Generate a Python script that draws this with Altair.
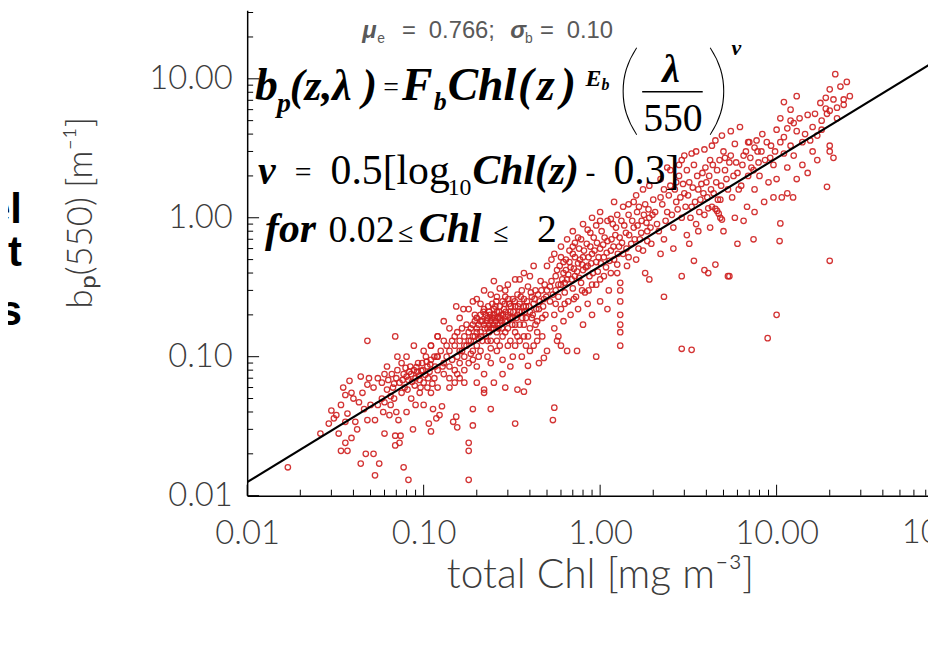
import altair as alt
import pandas as pd

# ---------------- data ----------------
# (total Chl [mg m^-3], bp(550) [m^-1]) pairs, grouped by Chl range
pts_a = [(0.017,0.016),(0.026,0.028),(0.029,0.033),(0.030,0.041),(0.031,0.036),(0.032,0.038),
         (0.033,0.028),(0.034,0.021),(0.034,0.045),(0.035,0.060),(0.036,0.024),(0.036,0.034),
         (0.036,0.053),(0.037,0.021),(0.037,0.039),(0.038,0.067),(0.039,0.026),(0.039,0.055),
         (0.040,0.050),(0.041,0.034),(0.042,0.030),(0.043,0.047),(0.044,0.017),(0.044,0.072),
         (0.045,0.055),(0.046,0.042),(0.047,0.020),(0.048,0.035),(0.048,0.063),(0.048,0.130),
         (0.049,0.070),(0.050,0.045)]
pts_b = [(0.052,0.020),(0.053,0.014),(0.053,0.035),(0.052,0.060),(0.055,0.070),(0.056,0.017),
         (0.058,0.050),(0.058,0.065),(0.060,0.028),(0.060,0.075),(0.062,0.058),(0.062,0.085),
         (0.065,0.045),(0.065,0.052),(0.066,0.075),(0.068,0.064),(0.069,0.023),(0.069,0.027),
         (0.069,0.140),(0.070,0.040),(0.071,0.080),(0.071,0.100),(0.072,0.035),(0.073,0.024),
         (0.074,0.027),(0.075,0.055),(0.075,0.090),(0.077,0.016),(0.078,0.060),(0.080,0.040),
         (0.080,0.072),(0.080,0.100),(0.082,0.013),(0.082,0.068),(0.085,0.050),(0.085,0.075),
         (0.087,0.030),(0.088,0.080),(0.088,0.120),(0.090,0.045),(0.090,0.070),(0.092,0.078),
         (0.095,0.055),(0.095,0.068),(0.098,0.090),(0.100,0.045),(0.100,0.065),(0.100,0.110),
         (0.105,0.060),(0.105,0.085),(0.107,0.033),(0.110,0.029),(0.110,0.055),(0.110,0.095),
         (0.110,0.120),(0.113,0.042),(0.115,0.070),(0.115,0.100),(0.118,0.036),(0.120,0.060),
         (0.120,0.080),(0.120,0.140),(0.083,0.078),(0.086,0.066),(0.091,0.084),(0.094,0.073),
         (0.097,0.079),(0.102,0.074),(0.104,0.092),(0.108,0.078),(0.076,0.068),(0.079,0.083),
         (0.055,0.045),(0.059,0.040),(0.063,0.068),(0.067,0.060),(0.070,0.070),(0.073,0.065),
         (0.077,0.075),(0.081,0.058),(0.084,0.085),(0.089,0.062),(0.093,0.090),(0.096,0.060),
         (0.099,0.080),(0.103,0.100),(0.106,0.070),(0.109,0.088),(0.112,0.064),(0.116,0.085),
         (0.119,0.100),(0.060,0.047),(0.064,0.038),(0.068,0.050)]
pts_c = [(0.180,0.013),(0.180,0.024),(0.180,0.021),(0.147,0.034),(0.155,0.031),(0.153,0.037),
         (0.127,0.044),(0.123,0.038),(0.190,0.032),(0.190,0.042),(0.330,0.033),(0.240,0.042),
         (0.220,0.055),(0.220,0.058),(0.290,0.060),(0.340,0.058),(0.370,0.056),(0.390,0.086),
         (0.390,0.066),(0.480,0.098),(0.540,0.035),(0.550,0.043),(0.250,0.350),(0.153,0.230),
         (0.168,0.220),(0.190,0.250),(0.210,0.240),(0.130,0.180),(0.130,0.130),
         (0.130,0.090),(0.135,0.100),(0.140,0.085),(0.140,0.110),(0.145,0.095),(0.150,0.120),
         (0.150,0.080),(0.155,0.100),(0.160,0.130),(0.160,0.090),(0.165,0.110),(0.170,0.140),
         (0.170,0.100),(0.175,0.120),(0.180,0.150),(0.180,0.090),(0.185,0.130),(0.190,0.170),
         (0.190,0.110),(0.195,0.140),(0.200,0.160),(0.200,0.120),(0.200,0.190),(0.205,0.100),
         (0.210,0.150),(0.210,0.200),(0.215,0.130),(0.220,0.170),(0.220,0.220),(0.225,0.140),
         (0.230,0.190),(0.230,0.160),(0.235,0.210),(0.240,0.180),(0.240,0.130),(0.245,0.240),
         (0.250,0.200),(0.250,0.160),(0.250,0.220),(0.255,0.180),(0.260,0.210),(0.260,0.150),
         (0.265,0.190),(0.270,0.230),(0.270,0.170),(0.275,0.200),(0.280,0.250),(0.280,0.140),
         (0.285,0.220),(0.290,0.180),(0.290,0.270),(0.300,0.200),(0.300,0.160),(0.305,0.240),
         (0.310,0.130),(0.310,0.210),(0.320,0.190),(0.320,0.260),(0.330,0.150),(0.330,0.230),
         (0.340,0.200),(0.340,0.280),(0.350,0.170),(0.350,0.240),(0.360,0.210),(0.360,0.300),
         (0.370,0.140),(0.370,0.260),(0.380,0.190),(0.380,0.230),(0.390,0.320),(0.400,0.210),
         (0.400,0.160),(0.410,0.270),(0.420,0.120),(0.420,0.240),(0.430,0.300),(0.440,0.180),
         (0.450,0.220),(0.460,0.350),(0.470,0.140),(0.480,0.260),(0.490,0.200),(0.500,0.300),
         (0.500,0.110),(0.160,0.070),(0.200,0.085),(0.230,0.100),(0.260,0.110),(0.280,0.095),
         (0.300,0.120),(0.320,0.100),(0.350,0.130),(0.280,0.075),(0.220,0.075),(0.170,0.065),
         (0.140,0.060),(0.250,0.065),(0.310,0.085),(0.360,0.100),(0.400,0.110),(0.440,0.130),
         (0.450,0.090),(0.200,0.065),(0.140,0.160),(0.160,0.190),(0.180,0.220),(0.200,0.260),
         (0.220,0.300),(0.240,0.280),(0.270,0.310),(0.300,0.330),(0.330,0.360),(0.370,0.400),
         (0.400,0.380),(0.420,0.450),(0.350,0.360),(0.260,0.270),(0.290,0.300),(0.120,0.140),
         (0.110,0.120),(0.215,0.180),(0.235,0.150),(0.245,0.190),(0.255,0.230),(0.265,0.160),
         (0.275,0.180),(0.235,0.170),(0.225,0.200),(0.195,0.180),(0.205,0.135),(0.185,0.105)]
pts_c2 = [(0.150,0.140),(0.155,0.150),(0.160,0.110),(0.165,0.160),(0.170,0.120),(0.175,0.170),
          (0.180,0.130),(0.185,0.160),(0.190,0.140),(0.195,0.200),(0.200,0.150),(0.205,0.170),
          (0.210,0.180),(0.212,0.140),(0.218,0.210),(0.222,0.160),(0.228,0.180),(0.232,0.230),
          (0.238,0.200),(0.242,0.160),(0.248,0.170),(0.252,0.190),(0.258,0.250),(0.262,0.170),
          (0.268,0.210),(0.272,0.190),(0.278,0.160),(0.282,0.200),(0.288,0.240),(0.292,0.210),
          (0.298,0.180),(0.302,0.260),(0.308,0.190),(0.312,0.230),(0.318,0.170),(0.322,0.210),
          (0.328,0.250),(0.335,0.190),(0.342,0.230),(0.348,0.210),(0.355,0.270),(0.362,0.190),
          (0.368,0.230),(0.375,0.210),(0.385,0.250),(0.395,0.230),(0.405,0.290),(0.415,0.200),
          (0.425,0.260),(0.435,0.220),(0.445,0.280),(0.455,0.250),(0.465,0.300),(0.475,0.230),
          (0.485,0.330),(0.495,0.270),(0.230,0.130),(0.260,0.130),(0.290,0.150),(0.330,0.170),
          (0.370,0.170),(0.410,0.190),(0.440,0.150),(0.470,0.190),(0.170,0.080),(0.190,0.095),
          (0.210,0.110),(0.240,0.115),(0.270,0.120),(0.340,0.140),(0.390,0.140),(0.430,0.170),
          (0.150,0.065),(0.240,0.090),(0.330,0.120),(0.380,0.120),(0.130,0.075),(0.125,0.110),
          (0.135,0.120),(0.145,0.130),(0.140,0.070),(0.155,0.075),(0.120,0.100),(0.128,0.085)]
pts_d = [(0.950,0.100),(0.740,0.110),(0.650,0.110),(0.600,0.120),(0.570,0.130),
         (1.30,0.120),(1.30,0.150),(1.30,0.170),(1.30,0.200),(1.30,0.250),(1.30,0.300),
         (1.30,0.340),(1.90,0.360),(1.80,0.400),
         (0.52,0.25),(0.53,0.35),(0.55,0.20),(0.56,0.30),(0.57,0.42),(0.58,0.27),(0.60,0.33),
         (0.60,0.22),(0.62,0.40),(0.63,0.29),(0.64,0.50),(0.65,0.36),(0.66,0.25),(0.68,0.44),
         (0.70,0.31),(0.70,0.55),(0.72,0.38),(0.73,0.27),(0.75,0.47),(0.76,0.60),(0.78,0.34),
         (0.80,0.42),(0.80,0.52),(0.82,0.29),(0.84,0.65),(0.85,0.45),(0.87,0.38),(0.90,0.55),
         (0.90,0.33),(0.92,0.72),(0.95,0.48),(0.97,0.41),(1.00,0.60),(1.00,0.36),(1.02,0.80),
         (1.05,0.52),(1.08,0.44),(1.10,0.68),(1.12,0.30),(1.15,0.58),(1.18,0.90),(1.20,0.50),
         (1.22,0.75),(1.25,0.40),(1.28,0.62),(1.32,0.95),(1.35,0.55),(1.40,0.78),(1.42,0.45),
         (1.45,1.05),(1.50,0.65),(1.55,0.85),(1.60,0.50),(1.62,1.10),(1.68,0.70),(1.72,0.95),
         (1.75,0.58),(1.80,1.25),(1.85,0.80),(1.90,1.00),(1.95,0.65),(2.00,1.35),
         (0.55,0.16),(0.62,0.18),(0.68,0.20),(0.75,0.22),(0.85,0.24),(0.58,0.14),(0.80,0.17),
         (1.00,0.25),(1.10,0.22),(0.90,0.20),(0.50,0.45),(0.55,0.55),(0.60,0.62),(0.65,0.70),
         (0.70,0.80),(0.80,0.90),(0.90,1.00),(1.00,1.10),(0.62,0.48),(0.72,0.66),(0.88,0.78),
         (1.15,0.98),(1.35,1.20),(1.55,1.30),(0.67,0.58),(0.78,0.70)]
pts_d2 = [(0.52,0.32),(0.54,0.28),(0.56,0.38),(0.58,0.33),(0.59,0.45),(0.61,0.36),(0.63,0.34),
          (0.64,0.42),(0.66,0.39),(0.67,0.48),(0.69,0.36),(0.71,0.43),(0.72,0.52),(0.74,0.41),
          (0.76,0.37),(0.77,0.50),(0.79,0.46),(0.81,0.58),(0.83,0.44),(0.86,0.52),(0.88,0.62),
          (0.89,0.47),(0.91,0.40),(0.93,0.58),(0.96,0.66),(0.98,0.52),(1.01,0.47),(1.04,0.64),
          (1.06,0.72),(1.09,0.56),(1.13,0.49),(1.16,0.70),(1.19,0.62),(1.23,0.85),(1.26,0.55),
          (1.29,0.72),(1.33,0.66),(1.37,0.88),(1.41,0.60),(1.46,0.75),(1.52,0.95),(1.57,0.70),
          (1.63,0.88),(1.66,1.20),(1.71,0.78),(1.77,1.05),(1.83,0.92),(1.88,1.15),(1.93,0.85),
          (1.98,1.05),(0.56,0.24),(0.63,0.24),(0.71,0.26),(0.79,0.30),(0.86,0.30),(0.95,0.33),
          (1.05,0.38),(1.15,0.40),(1.25,0.46),(1.45,0.52),(1.65,0.60),(1.85,0.68),(0.60,0.52),
          (0.70,0.62),(0.85,0.82),(0.95,0.88),(1.10,0.95),(1.25,1.05),(1.45,1.25),(1.60,1.45),
          (1.75,1.60),(1.90,1.70),(1.20,1.30),(1.00,0.95),(0.75,0.72),(0.53,0.50)]
pts_e = [(2.90,0.114),(3.30,0.112),(5.30,0.38),(6.00,0.65),(7.40,0.70),(10.4,0.68),(10.5,0.91),
         (12.4,1.40),(11.5,1.50),(10.7,1.40),(9.60,1.40),(2.30,0.27),(2.90,0.38),(3.40,0.49),
         (3.90,0.42),(4.10,0.40),(4.50,0.46),(5.40,0.38),(4.10,1.17),(4.50,1.16),(4.70,1.07),
         (4.80,1.00),(4.90,0.97),(4.30,1.20),(4.60,1.12),
         (2.1,0.90),(2.2,1.40),(2.3,0.70),(2.4,1.10),(2.5,1.70),(2.6,0.85),(2.7,1.30),(2.8,2.00),
         (2.9,1.00),(3.0,1.50),(3.1,0.75),(3.2,1.80),(3.3,1.20),(3.4,2.40),(3.5,0.90),(3.6,1.60),
         (3.7,1.35),(3.8,2.10),(3.9,1.05),(4.0,1.80),(4.2,2.60),(4.4,1.50),(4.6,2.20),(4.8,1.35),
         (5.0,3.00),(5.2,1.90),(5.4,2.50),(5.6,1.40),(5.8,3.40),(6.0,2.10),(6.3,1.70),(6.5,2.80),
         (6.8,1.20),(7.0,3.50),(7.2,2.30),(7.5,1.60),(7.8,3.00),(8.0,2.00),(8.3,4.00),(8.6,2.60),
         (9.0,1.80),(9.3,3.30),(9.6,2.40),(10.0,4.30),(10.0,1.90),(2.2,0.55),(2.6,0.60),
         (3.2,0.65),(3.6,0.80),(4.2,0.85),(5.0,0.80),(5.8,1.00),(6.5,0.95),(7.5,1.10),(8.5,1.30),
         (2.4,2.30),(2.9,2.60),(3.5,3.00),(4.5,3.60),(5.5,4.20),(6.9,3.50),(7.5,3.20),(5.1,2.70)]
pts_e2 = [(2.05,1.10),(2.15,0.80),(2.25,1.25),(2.35,0.95),(2.45,1.45),(2.55,1.05),(2.65,1.60),
          (2.75,1.15),(2.85,1.40),(2.95,1.75),(3.05,1.20),(3.15,1.45),(3.25,1.00),(3.35,1.65),
          (3.45,1.30),(3.55,2.00),(3.65,1.10),(3.75,1.75),(3.85,1.50),(3.95,2.30),(4.05,1.40),
          (4.15,2.00),(4.25,1.60),(4.35,2.40),(4.55,1.80),(4.65,1.35),(4.75,2.60),(4.85,1.70),
          (5.10,2.20),(5.30,1.60),(5.50,2.80),(5.70,2.00),(5.90,2.50),(6.10,1.60),(6.40,2.40),
          (6.70,3.00),(6.90,2.00),(7.10,2.70),(7.40,2.20),(7.70,3.60),(7.90,2.50),(8.20,3.00),
          (8.80,3.50),(9.20,2.70),(9.80,3.00),(2.2,1.9),(2.5,2.2),(2.8,2.4),(3.0,2.8),(3.3,2.9),
          (3.9,3.1),(4.3,3.3),(4.9,3.9),(6.2,4.5),(2.3,1.6),(2.7,1.8),(3.1,2.2)]
pts_f = [(21.5,10.8),(20.0,8.4),(24.0,7.1),(21.0,7.1),(17.7,6.7),(19.0,6.1),(19.3,5.6),
         (20.0,5.9),(20.0,3.3),(20.0,3.0),(21.0,2.7),(19.3,1.67),(20.0,0.49),(10.0,0.20),
         (8.9,0.136),(11.0,3.8),(12.0,5.0),(13.0,4.2),(14.0,3.5),(15.0,5.5),(16.0,4.5),
         (17.0,3.9),(18.0,5.0),(12.5,2.8),(14.0,2.4),(16.0,3.0),(11.5,2.3),(13.0,1.9),
         (15.0,2.1),(17.0,2.6),(24.0,6.5),(26.0,7.5),(22.0,5.2),(12.0,6.0),(10.5,5.2),
         (10.5,3.5),(11.0,2.9),(11.5,4.4),(12.0,3.3),(12.5,4.8),(13.5,5.2),(14.5,4.0),
         (15.5,3.6),(16.5,5.6),(18.0,4.3),(19.0,7.3),(22.0,6.2),(23.0,8.8),(25.0,9.5),
         (11.0,6.8),(13.0,7.5)]

# fitted power law drawn on the figure (end points)
line_chl = [0.01, 100.0]
line_bp = [0.0125, 16.1]

# axis tick labels / tick positions
x_labels = [0.01, 0.1, 1.0, 10.0]
y_labels = [0.01, 0.1, 1.0, 10.0]
x_minor = [0.02, 0.03, 0.04, 0.05, 0.06, 0.07, 0.08, 0.09,
           0.2, 0.3, 0.4, 0.5, 0.6, 0.7, 0.8, 0.9,
           2, 3, 4, 5, 6, 7, 8, 9, 20, 30, 40, 50, 60, 70]
y_minor = [0.02, 0.03, 0.04, 0.05, 0.06, 0.07, 0.08, 0.09,
           0.2, 0.3, 0.4, 0.5, 0.6, 0.7, 0.8, 0.9,
           2, 3, 4, 5, 6, 7, 8, 9, 20, 30]

# ---------------- layout ----------------
W, H = 686, 489
LEFT = 249          # page x of plot left edge
TOP = 8             # page y of plot top edge
X_DOM = [0.01, 72.1]
Y_DOM = [0.01, 31.1]
xs = alt.Scale(type="log", domain=X_DOM, nice=False)
ys = alt.Scale(type="log", domain=Y_DOM, nice=False)

LABEL_FONT = "Lato"
LABEL_COLOR = "#3c3c3c"
xaxis = alt.Axis(values=x_labels, format=".2f", ticks=False, tickSize=0, grid=False,
                 domainColor="black", domainWidth=1.5, labelFont=LABEL_FONT,
                 labelFontSize=33, labelFontWeight=300, labelColor=LABEL_COLOR,
                 labelPadding=22, labelFlush=False, labelOverlap=False, title="")
yaxis = alt.Axis(values=y_labels, format=".2f", ticks=False, tickSize=0, grid=False,
                 domainColor="black", domainWidth=1.5, labelFont=LABEL_FONT,
                 labelFontSize=33, labelFontWeight=300, labelColor=LABEL_COLOR,
                 labelPadding=15, labelFlush=False, labelOverlap=False, title="")

groups = (pts_a, pts_b, pts_c, pts_c2, pts_d, pts_d2, pts_e, pts_e2, pts_f)
rows = [{"chl": c, "bp": b} for grp in groups for c, b in grp]
pts_df = pd.DataFrame(rows)

scatter = alt.Chart(pts_df).mark_point(
    shape="circle", filled=False, size=30, strokeWidth=1.3, color="#cf1f1f", opacity=0.9, clip=True
).encode(x=alt.X("chl:Q", scale=xs, axis=xaxis), y=alt.Y("bp:Q", scale=ys, axis=yaxis))

fit = alt.Chart(pd.DataFrame({"chl": line_chl, "bp": line_bp})).mark_line(
    color="black", strokeWidth=2.2, clip=True
).encode(x=alt.X("chl:Q", scale=xs, axis=xaxis), y=alt.Y("bp:Q", scale=ys, axis=yaxis))


def xticks(vals, length):
    return alt.Chart(pd.DataFrame({"v": vals})).mark_rule(color="black", strokeWidth=1).encode(
        x=alt.X("v:Q", scale=xs, axis=xaxis), y=alt.value(H), y2=alt.value(H - length))


def yticks(vals, length):
    return alt.Chart(pd.DataFrame({"v": vals})).mark_rule(color="black", strokeWidth=1).encode(
        y=alt.Y("v:Q", scale=ys, axis=yaxis), x=alt.value(0), x2=alt.value(length))


def txt(s, px, py, size, font="Liberation Serif", weight="normal", style="normal",
        color="black", align="left", baseline="alphabetic", angle=0):
    return alt.Chart(pd.DataFrame({"t": [s]})).mark_text(
        font=font, fontSize=size, fontWeight=weight, fontStyle=style, color=color,
        align=align, baseline=baseline, angle=angle
    ).encode(x=alt.value(px - LEFT), y=alt.value(py - TOP), text="t:N")


BI = dict(weight="bold", style="italic")
GRAY = "#595959"
SANS = "Liberation Sans"

texts = [
    # statistics line
    txt("μ", 365, 36, 24, font=SANS, color=GRAY, **BI),
    txt("e", 380, 41, 14, font=SANS, color=GRAY),
    txt("=", 405, 36, 24, font=SANS, color=GRAY),
    txt("0.766;", 432, 36, 24, font=SANS, color=GRAY),
    txt("σ", 514, 36, 24, font=SANS, color=GRAY, **BI),
    txt("b", 529, 41, 14, font=SANS, color=GRAY),
    txt("=", 544, 36, 24, font=SANS, color=GRAY),
    txt("0.10", 571, 36, 24, font=SANS, color=GRAY),
    # formula line 1
    txt("b", 257, 98, 46, **BI),
    txt("p", 279, 110, 28, **BI),
    txt("(z,λ )", 292, 98, 44, **BI),
    txt("=", 386, 94, 28),
    txt("F", 405, 98, 46, **BI),
    txt("b", 437, 108, 26, **BI),
    txt("Chl", 451, 98, 46, **BI),
    txt("(", 522, 98, 46, **BI),
    txt("z", 541, 98, 46, **BI),
    txt(")", 565, 98, 46, **BI),
    txt("E", 590, 84, 24, **BI),
    txt("b", 606, 88, 16, **BI),
    txt("(", 621, 122, 100, font="Lato", weight=100),
    txt("λ", 676, 80, 40, align="center", **BI),
    txt("550", 678, 130, 40, align="center"),
    txt(")", 711, 122, 100, font="Lato", weight=100),
    txt("ν", 737, 53, 22, **BI),
    # formula line 2
    txt("ν", 260, 183, 40, **BI),
    txt("=", 297, 181, 30),
    txt("0.5[log", 333, 183, 42),
    txt("10", 451, 194, 24),
    txt("Chl(z)", 476, 183, 42, **BI),
    txt("-", 590, 181, 30),
    txt("0.3]", 618, 183, 42),
    # formula line 3
    txt("for", 267, 241, 42, **BI),
    txt("0.02", 331, 241, 38),
    txt("≤", 401, 241, 28),
    txt("Chl", 422, 241, 42, **BI),
    txt("≤", 497, 241, 28),
    txt("2", 541, 241, 40),
    # axis titles
    txt("total Chl [mg m⁻³]", 605, 578, 41, font=LABEL_FONT, weight=300, color=LABEL_COLOR,
        align="center", baseline="middle"),
    txt("bₚ(550) [m⁻¹]", 82, 212, 35, font=LABEL_FONT, weight=300, color=LABEL_COLOR,
        align="center", baseline="middle", angle=270),
    # slide text cut off at the left edge
    txt("Model", 22, 222, 42, font=SANS, weight="bold", align="right"),
    txt("constant", 22, 266, 42, font=SANS, weight="bold", align="right"),
    txt("this", 22, 325, 42, font=SANS, weight="bold", align="right"),
]

frac_bar = alt.Chart(pd.DataFrame({"k": [0]})).mark_rule(color="black", strokeWidth=1.6).encode(
    x=alt.value(647 - LEFT), x2=alt.value(708 - LEFT), y=alt.value(90 - TOP))

label_100 = alt.Chart(pd.DataFrame({"t": ["100.00"]})).mark_text(
    font=LABEL_FONT, fontSize=33, fontWeight=300, color=LABEL_COLOR, align="center", baseline="top"
).encode(x=alt.datum(100), y=alt.value(H + 22), text="t:N")

chart = alt.layer(
    scatter, fit,
    xticks(x_labels, 11), xticks(x_minor, 6), yticks(y_labels, 12), yticks(y_minor, 6),
    frac_bar, label_100, *texts
).properties(
    width=W, height=H,
    autosize=alt.AutoSizeParams(type="none"),
    padding={"left": 241, "top": 0, "right": 0, "bottom": 130},
).configure_view(strokeWidth=0)

chart.save("out.html", embed_options={"renderer": "svg", "actions": False})
